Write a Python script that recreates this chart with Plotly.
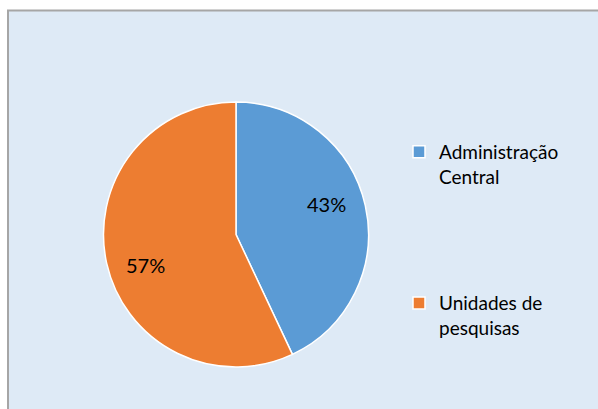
import math
import plotly.graph_objects as go

labels = ["Administração<br>Central", "Unidades de<br>pesquisas"]
values = [43, 57]
colors = ["#5B9BD5", "#ED7D31"]

W, H = 598, 409
# pie geometry in pixels
CX, CY, R = 236, 234.5, 132.5
legend_labels = [labels[0] + "<br> <br> <br> <br> ", labels[1]]

fig = go.Figure(go.Pie(
    labels=legend_labels,
    values=values,
    sort=False,
    direction="clockwise",
    rotation=0,
    marker=dict(colors=colors, line=dict(color="white", width=1.5)),
    textinfo="none",
    domain=dict(x=[(CX - R) / W, (CX + R) / W], y=[1 - (CY + R) / H, 1 - (CY - R) / H]),
    hoverinfo="label+percent",
))

# percentage labels placed along each slice's bisector
total = sum(values)
cum = 0
for v in values:
    mid = (cum + v / 2) / total * 360 - 6
    cum += v
    a = math.radians(mid)
    px = CX + 0.72 * R * math.sin(a)
    py = CY - 0.72 * R * math.cos(a)
    fig.add_annotation(x=px / W, y=1 - py / H, xref="paper", yref="paper",
                       text=f"{round(v / total * 100)}%", showarrow=False,
                       font=dict(family="Lato", size=20, color="#000000"),
                       xanchor="center", yanchor="middle")

fig.add_shape(type="rect", xref="paper", yref="paper",
              x0=8 / W, x1=1.05, y0=-0.05, y1=1 - 10.5 / H,
              line=dict(color="#A6A6A6", width=2),
              fillcolor="#DEEAF6", layer="below")

fig.update_layout(
    width=W, height=H,
    margin=dict(l=0, r=0, t=0, b=0),
    paper_bgcolor="white",
    plot_bgcolor="white",
    showlegend=True,
    legend=dict(x=399 / W, y=1 - 133 / H, xanchor="left", yanchor="top",
                valign="top", bgcolor="rgba(0,0,0,0)",
                font=dict(family="Lato", size=19, color="#000000"),
                itemwidth=30, tracegroupgap=0),
)

fig.write_html("out.html", config={"displayModeBar": False},
               post_script="document.body.style.margin='0';document.body.style.overflow='hidden';")
